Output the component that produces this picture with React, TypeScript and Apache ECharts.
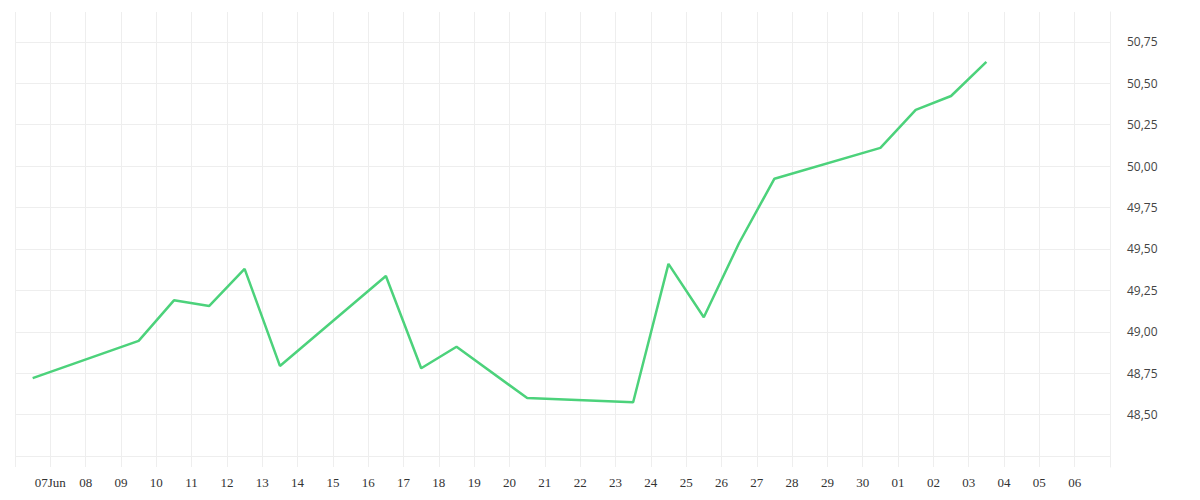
import React, { useEffect, useRef } from "react";
import * as echarts from "echarts";

// Trading dates (2025) and closing values
const dates = [
  "2025-06-06", "2025-06-09", "2025-06-10", "2025-06-11", "2025-06-12", "2025-06-13",
  "2025-06-16", "2025-06-17", "2025-06-18", "2025-06-20", "2025-06-23", "2025-06-24",
  "2025-06-25", "2025-06-26", "2025-06-27", "2025-06-30", "2025-07-01", "2025-07-02",
  "2025-07-03",
];
const values = [
  48.72, 48.945, 49.19, 49.156, 49.38, 48.794,
  49.337, 48.78, 48.91, 48.6, 48.575, 49.41,
  49.088, 49.536, 49.924, 50.11, 50.339, 50.423,
  50.629,
];

// x axis ticks (one per day, Jun 6 .. Jul 7)
const xStartDate = "2025-06-06";
const xEndDate = "2025-07-07";
const xTickLabels = [
  "", "07Jun", "08", "09", "10", "11", "12", "13", "14", "15", "16", "17", "18", "19",
  "20", "21", "22", "23", "24", "25", "26", "27", "28", "29", "30", "01", "02", "03",
  "04", "05", "06", "",
];

// y axis
const yMin = 48.184;
const yMax = 50.93;
const yGridValues = [48.25, 48.5, 48.75, 49.0, 49.25, 49.5, 49.75, 50.0, 50.25, 50.5, 50.75];
const yLabelValues = [48.5, 48.75, 49.0, 49.25, 49.5, 49.75, 50.0, 50.25, 50.5, 50.75];

const DAY = 86400000;
const dayNum = (s: string) => {
  const [y, m, d] = s.split("-").map(Number);
  return Date.UTC(y, m - 1, d) / DAY;
};

export default function App() {
  const ref = useRef<HTMLDivElement>(null);
  useEffect(() => {
    if (!ref.current) return;
    const chart = echarts.init(ref.current, null, { renderer: "svg" });
    const xMin = dayNum(xStartDate);
    const xMax = dayNum(xEndDate);
    const data = dates.map((d, i) => [dayNum(d) + 0.5, values[i]]);
    const gridColor = "#eeeeee";
    chart.setOption({
      animation: false,
      backgroundColor: "#ffffff",
      grid: { left: 15, right: 90, top: 12, bottom: 33, containLabel: false },
      xAxis: {
        type: "value",
        min: xMin,
        max: xMax,
        interval: 1,
        axisLine: { show: false },
        axisTick: { show: false },
        splitLine: { show: true, lineStyle: { color: gridColor, width: 1 } },
        axisLabel: {
          margin: 9,
          color: "#333333",
          fontSize: 13,
          fontFamily: "'Liberation Serif', serif",
          showMinLabel: true,
          showMaxLabel: true,
          hideOverlap: false,
          formatter: (v: number) => xTickLabels[Math.round(v - xMin)] ?? "",
        },
      },
      yAxis: {
        type: "value",
        position: "right",
        min: yMin,
        max: yMax,
        axisLine: { show: true, lineStyle: { color: gridColor, width: 1 } },
        axisTick: { show: false, customValues: yGridValues },
        splitLine: { show: true, lineStyle: { color: gridColor, width: 1 } },
        axisLabel: {
          customValues: yLabelValues,
          margin: 17,
          color: "#444444",
          fontSize: 12,
          fontFamily: "'Open Sans', sans-serif",
          padding: [3, 0, 0, 0],
          formatter: (v: number) => v.toFixed(2).replace(".", ","),
        },
      },
      series: [
        {
          type: "line",
          data,
          symbol: "none",
          lineStyle: { color: "#4cd27b", width: 2.5 },
          itemStyle: { color: "#4cd27b" },
        },
      ],
    });
    return () => chart.dispose();
  }, []);
  return (
    <div
      ref={ref}
      style={{ position: "fixed", left: 0, top: 0, width: 1200, height: 500, background: "#fff" }}
    />
  );
}
